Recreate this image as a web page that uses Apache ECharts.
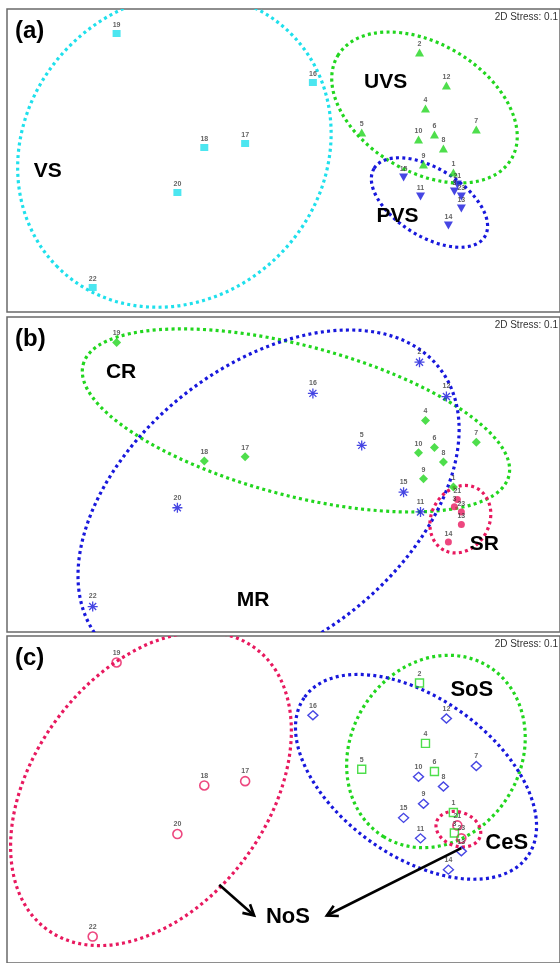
<!DOCTYPE html>
<html>
<head>
<meta charset="utf-8">
<script src="https://cdn.jsdelivr.net/npm/echarts@6/dist/echarts.min.js"></script>
<style>
  html, body { margin: 0; padding: 0; background: #fff; }
  #chart { width: 560px; height: 963px; }
</style>
</head>
<body>
<div id="chart"></div>
<script>
// Sites and their NMDS ordination scores (same configuration in all three panels)
const siteIds = ['1','2','3','4','5','6','7','8','9','10','11','12','13','14','15','16','17','18','19','20','21','22','23'];
const nmds1 = [1.72, 1.38, 1.73, 1.44, 0.80, 1.53, 1.95, 1.62, 1.42, 1.37, 1.39, 1.65, 1.80, 1.67, 1.22, 0.31, -0.37, -0.78, -1.66, -1.05, 1.76, -1.90, 1.80];
const nmds2 = [-0.12, 1.08, -0.31, 0.52, 0.28, 0.26, 0.31, 0.12, -0.04, 0.21, -0.36, 0.75, -0.48, -0.65, -0.17, 0.78, 0.17, 0.13, 1.27, -0.32, -0.24, -1.27, -0.36];

// (a) vegetation classes
const groupVS  = [16, 17, 18, 19, 20, 22];
const groupUVS = [1, 2, 4, 5, 6, 7, 8, 9, 10, 12];
const groupPVS = [3, 11, 13, 14, 15, 21, 23];
// (b) rock classes
const groupCR = [1, 4, 6, 7, 8, 9, 10, 17, 18, 19];
const groupMR = [2, 5, 11, 12, 15, 16, 20, 22];
const groupSR = [3, 13, 14, 21, 23];
// (c) soil classes
const groupNoS = [17, 18, 19, 20, 21, 22, 23];
const groupSoS = [1, 2, 3, 4, 5, 6];
const groupCeS = [7, 8, 9, 10, 11, 12, 13, 14, 15, 16];

const panelTags = ['(a)', '(b)', '(c)'];
const stressText = '2D Stress: 0.1';

const FONT = '"Liberation Sans", Arial, sans-serif';
const COL = { cyan: '#1fe0ec', green: '#22d61f', blue: '#1818dc', pink: '#e8195f' };

const panels = [
  { top: 9,   height: 303 },
  { top: 317, height: 315 },
  { top: 636, height: 330 }
];

function pts(ids) {
  return ids.map(id => [nmds1[id - 1], nmds2[id - 1], siteIds[id - 1]]);
}

function scatter(i, ids, symbol, size, itemStyle, extra) {
  return Object.assign({
    type: 'scatter', xAxisIndex: i, yAxisIndex: i, z: 3,
    data: pts(ids), symbol: symbol, symbolSize: size, itemStyle: itemStyle,
    label: {
      show: true, position: 'top', distance: 1,
      formatter: p => p.value[2],
      fontFamily: FONT, fontSize: 7, fontWeight: 'bold', color: '#3a3a3a'
    },
    emphasis: { disabled: true }, silent: true
  }, extra || {});
}

// Dotted group ellipses: centre in NMDS units, semi-axes in px, major-axis angle in degrees
function ellipses(i, list) {
  return {
    type: 'custom', xAxisIndex: i, yAxisIndex: i, z: 1, clip: true, silent: true,
    data: list.map(e => [e.cx, e.cy]),
    renderItem: (params, api) => {
      const e = list[params.dataIndex];
      const c = api.coord([e.cx, e.cy]);
      return {
        type: 'ellipse', x: c[0], y: c[1], rotation: e.deg * Math.PI / 180,
        shape: { cx: 0, cy: 0, rx: e.a, ry: e.b },
        style: { fill: 'none', stroke: e.color, lineWidth: 3.2, lineDash: [3, 3.3] }
      };
    }
  };
}

function groupLabels(i, list) {
  return {
    type: 'custom', xAxisIndex: i, yAxisIndex: i, z: 5, silent: true,
    data: list.map(t => [t.x, t.y]),
    renderItem: (params, api) => {
      const t = list[params.dataIndex];
      const c = api.coord([t.x, t.y]);
      return {
        type: 'text', x: c[0], y: c[1],
        style: { text: t.text, align: 'center', verticalAlign: 'middle',
                 font: 'bold ' + (t.size || 21) + 'px ' + FONT, fill: '#000' }
      };
    }
  };
}

function arrows(i, list) {
  return {
    type: 'custom', xAxisIndex: i, yAxisIndex: i, z: 5, silent: true,
    data: list.map(a => [a.x1, a.y1]),
    renderItem: (params, api) => {
      const a = list[params.dataIndex];
      const p1 = api.coord([a.x1, a.y1]);
      const p2 = api.coord([a.x2, a.y2]);
      const ang = Math.atan2(p2[1] - p1[1], p2[0] - p1[0]);
      const L = 12, w = 0.5;
      const h1 = [p2[0] - L * Math.cos(ang - w), p2[1] - L * Math.sin(ang - w)];
      const h2 = [p2[0] - L * Math.cos(ang + w), p2[1] - L * Math.sin(ang + w)];
      const st = { stroke: '#000', lineWidth: 2.6, fill: 'none', lineJoin: 'miter' };
      return {
        type: 'group',
        children: [
          { type: 'line', shape: { x1: p1[0], y1: p1[1], x2: p2[0], y2: p2[1] }, style: st },
          { type: 'polyline', shape: { points: [h1, p2, h2] }, style: st }
        ]
      };
    }
  };
}

const asterisk = 'path://M5,0L5,10M0,5L10,5M1.5,1.5L8.5,8.5M8.5,1.5L1.5,8.5';
const hollow = 'rgba(0,0,0,0)';

const series = [
  // (a)
  ellipses(0, [
    { cx: -1.08, cy: 0.10, a: 165, b: 148, deg: 45, color: COL.cyan },
    { cx: 1.43, cy: 0.53, a: 101, b: 64, deg: -30.8, color: COL.green },
    { cx: 1.48, cy: -0.42, a: 65, b: 34, deg: -31.7, color: COL.blue }
  ]),
  scatter(0, groupVS, 'rect', [8, 7], { color: COL.cyan }),
  scatter(0, groupUVS, 'triangle', [9, 8], { color: COL.green }),
  scatter(0, groupPVS, 'triangle', [9, 8], { color: COL.blue }, { symbolRotate: 180 }),
  groupLabels(0, [
    { text: 'VS', x: -2.35, y: -0.105 },
    { text: 'UVS', x: 1.04, y: 0.785 },
    { text: 'PVS', x: 1.16, y: -0.555 }
  ]),
  // (b)
  ellipses(1, [
    { cx: 0.14, cy: 0.52, a: 220, b: 75, deg: -14.7, color: COL.green },
    { cx: -0.135, cy: -0.27, a: 217.5, b: 137, deg: 38.4, color: COL.blue },
    { cx: 1.79, cy: -0.43, a: 35, b: 29, deg: 61.8, color: COL.pink }
  ]),
  scatter(1, groupCR, 'diamond', [9, 9], { color: COL.green }),
  scatter(1, groupMR, asterisk, [10, 10], { color: COL.blue, borderColor: COL.blue, borderWidth: 1.3 }),
  scatter(1, groupSR, 'circle', 7, { color: COL.pink }),
  groupLabels(1, [
    { text: 'CR', x: -1.615, y: 0.98 },
    { text: 'MR', x: -0.29, y: -1.205 },
    { text: 'SR', x: 2.03, y: -0.67 }
  ]),
  // (c)
  ellipses(2, [
    { cx: -1.315, cy: 0.10, a: 175, b: 117, deg: 53.4, color: COL.pink },
    { cx: 1.545, cy: 0.445, a: 100, b: 85, deg: 58.7, color: COL.green },
    { cx: 1.345, cy: 0.21, a: 137, b: 79, deg: -35.6, color: COL.blue },
    { cx: 1.77, cy: -0.275, a: 23, b: 17, deg: -20, color: COL.pink }
  ]),
  scatter(2, groupNoS, 'circle', 9, { color: hollow, borderColor: COL.pink, borderWidth: 1.6 }),
  scatter(2, groupSoS, 'rect', [8, 8], { color: hollow, borderColor: COL.green, borderWidth: 1.4 }),
  scatter(2, groupCeS, 'diamond', [10, 9], { color: hollow, borderColor: COL.blue, borderWidth: 1.4 }),
  arrows(2, [
    { x1: -0.63, y1: -0.79, x2: -0.28, y2: -1.075 },
    { x1: 1.80, y1: -0.45, x2: 0.45, y2: -1.075 }
  ]),
  groupLabels(2, [
    { text: 'SoS', x: 1.905, y: 1.015, size: 22 },
    { text: 'CeS', x: 2.255, y: -0.405, size: 22 },
    { text: 'NoS', x: 0.06, y: -1.09, size: 22 }
  ])
];

const graphic = [];
panels.forEach((p, i) => {
  graphic.push({
    type: 'text', x: 15, y: p.top + 22, z: 10, silent: true,
    style: { text: panelTags[i], font: 'bold 24px ' + FONT, fill: '#000', verticalAlign: 'middle' }
  });
  graphic.push({
    type: 'text', x: 558, y: p.top + 8, z: 10, silent: true,
    style: { text: stressText, font: '10px ' + FONT, fill: '#333', align: 'right', verticalAlign: 'middle' }
  });
});

const chart = echarts.init(document.getElementById('chart'), null, { renderer: 'canvas' });
chart.setOption({
  animation: false,
  backgroundColor: '#fff',
  grid: panels.map(p => ({
    left: 7, width: 555, top: p.top, height: p.height,
    show: true, borderColor: '#6a6a6a', borderWidth: 1.5, backgroundColor: '#fff'
  })),
  xAxis: panels.map((p, i) => ({ type: 'value', gridIndex: i, min: -2.76, max: 2.79, show: false })),
  yAxis: panels.map((p, i) => ({ type: 'value', gridIndex: i, min: -1.515, max: 1.515, show: false })),
  graphic: graphic,
  series: series
});
</script>
</body>
</html>
